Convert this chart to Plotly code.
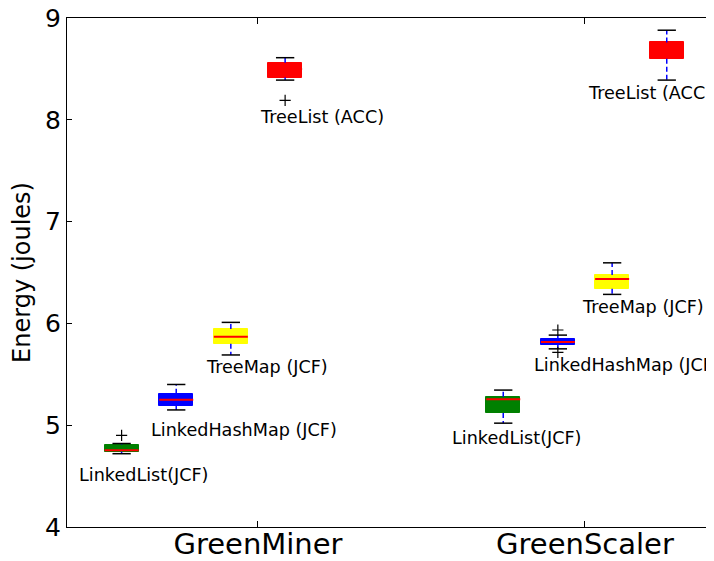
import plotly.graph_objects as go

# categories and groups
groups = ["GreenMiner", "GreenScaler"]
series = ["LinkedList(JCF)", "LinkedHashMap (JCF)", "TreeMap (JCF)", "TreeList (ACC)"]
colors = ["#008000", "#0000ff", "#ffff00", "#ff0000"]

# box statistics (joules), one list per group, in series order
gm_lower = [4.72, 5.15, 5.69, 8.39]
gm_q1 = [4.74, 5.19, 5.80, 8.415]
gm_median = [4.755, 5.25, 5.87, 8.50]
gm_q3 = [4.81, 5.31, 5.945, 8.56]
gm_upper = [4.82, 5.40, 6.01, 8.61]
gm_outliers = [[4.90], [], [], [8.19]]

gs_lower = [5.02, 5.75, 6.285, 8.39]
gs_q1 = [5.12, 5.79, 6.34, 8.60]
gs_median = [5.255, 5.817, 6.435, 8.70]
gs_q3 = [5.28, 5.845, 6.475, 8.76]
gs_upper = [5.345, 5.885, 6.595, 8.88]
gs_outliers = [[], [5.935, 5.715], [], []]

# where each box sits on the category axis (GreenMiner = 1, GreenScaler = 2)
gm_pos = [0.583, 0.75, 0.917, 1.083]
gs_pos = [1.75, 1.917, 2.083, 2.25]

stats = [
    (gm_pos, gm_lower, gm_q1, gm_median, gm_q3, gm_upper, gm_outliers),
    (gs_pos, gs_lower, gs_q1, gs_median, gs_q3, gs_upper, gs_outliers),
]

BOX_W = 0.104
CAP_W = 0.028

fig = go.Figure()

for pos, lo, q1, med, q3, hi, outl in stats:
    # boxes
    fig.add_trace(go.Bar(
        x=pos, y=[b - a for a, b in zip(q1, q3)], base=q1, width=BOX_W,
        marker=dict(color=colors, line=dict(color=colors, width=1)),
        showlegend=False, hoverinfo="skip"))

    wx, wy, cx, cy, mx, my = [], [], [], [], [], []
    for i, x in enumerate(pos):
        wx += [x, x, None, x, x, None]
        wy += [q3[i], hi[i], None, q1[i], lo[i], None]
        cx += [x - CAP_W, x + CAP_W, None, x - CAP_W, x + CAP_W, None]
        cy += [hi[i], hi[i], None, lo[i], lo[i], None]
        mx += [x - BOX_W / 2, x + BOX_W / 2, None]
        my += [med[i], med[i], None]

    # whiskers
    fig.add_trace(go.Scatter(x=wx, y=wy, mode="lines",
                             line=dict(color="#0000ff", width=1.5, dash="5px,3px"),
                             showlegend=False, hoverinfo="skip"))
    # caps
    fig.add_trace(go.Scatter(x=cx, y=cy, mode="lines",
                             line=dict(color="black", width=1.5),
                             showlegend=False, hoverinfo="skip"))
    # medians
    fig.add_trace(go.Scatter(x=mx, y=my, mode="lines",
                             line=dict(color="#ff0000", width=2),
                             showlegend=False, hoverinfo="skip"))
    # fliers
    ox, oy = [], []
    for i, x in enumerate(pos):
        for v in outl[i]:
            ox.append(x)
            oy.append(v)
    fig.add_trace(go.Scatter(x=ox, y=oy, mode="markers",
                             marker=dict(symbol="cross-thin", size=8,
                                         line=dict(color="black", width=1.2)),
                             showlegend=False, hoverinfo="skip"))

# text labels next to each box
label_xy = [
    (0.447, 4.51), (0.667, 4.953), (0.835, 5.572), (1.0, 8.027),
    (1.587, 4.874), (1.838, 5.591), (1.985, 6.161), (2.003, 8.263),
]
labels = series + series
for (lx, ly), txt in zip(label_xy, labels):
    fig.add_annotation(x=lx, y=ly, text=txt, showarrow=False,
                       xanchor="left", yanchor="middle",
                       font=dict(family="DejaVu Sans", size=17.6, color="black"))

# the page body keeps an 8px margin, so margins are trimmed by that much
fig.update_layout(
    width=714, height=561,
    margin=dict(l=59, r=8, t=10, b=42),
    paper_bgcolor="white", plot_bgcolor="white",
    font=dict(family="DejaVu Sans", color="black"),
    bargap=0,
)
fig.update_xaxes(
    range=[0.416, 2.3945], tickvals=[1, 2], ticktext=groups,
    tickfont=dict(size=29), showgrid=False, zeroline=False,
    showline=True, linecolor="black", linewidth=1, mirror="ticks",
    ticks="inside", ticklen=6, tickcolor="black",
    automargin=False, ticklabeloverflow="allow", ticklabelstandoff=-9,
)
fig.update_yaxes(
    range=[4, 9], tickvals=[4, 5, 6, 7, 8, 9],
    tickfont=dict(size=25), showgrid=False, zeroline=False,
    showline=True, linecolor="black", linewidth=1,
    ticks="inside", ticklen=5, tickcolor="black",
    automargin=False, ticklabeloverflow="allow",
    title=dict(text="Energy (joules)", font=dict(size=24), standoff=8),
)

fig.write_html("out.html")
